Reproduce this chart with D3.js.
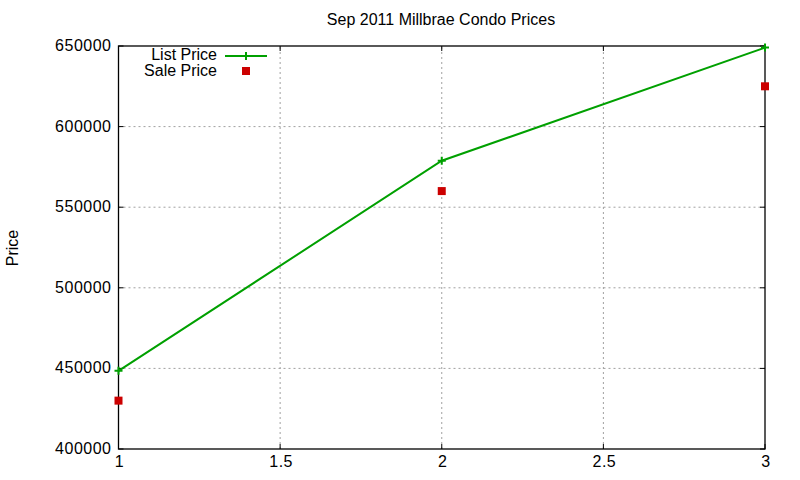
<!DOCTYPE html>
<html lang="en">
<head>
<meta charset="utf-8">
<title>Sep 2011 Millbrae Condo Prices</title>
<script src="https://cdn.jsdelivr.net/npm/d3@7"></script>
<style>
    body { margin: 0; background: #fff; }
    text { font-family: "Liberation Sans", Arial, sans-serif; fill: #000; font-size: 16px; }
    .tick-label { letter-spacing: 0.5px; }
    .grid line { stroke: #a0a0a0; stroke-dasharray: 2,3; }
</style>
</head>
<body>
<div id="chart"></div>
<script>

// data
const bedrooms = [1, 2, 3];
const listPrice = [448500, 578800, 649000];
const salePrice = [430000, 560000, 625000];

const xTicks = [1, 1.5, 2, 2.5, 3];
const yTicks = [400000, 450000, 500000, 550000, 600000, 650000];

const WIDTH = 800,
      HEIGHT = 480,
      MARGIN = { top: 46, right: 35, bottom: 31, left: 118.5 };

const LIST_COLOUR = "#00a000",
      SALE_COLOUR = "#cc0000";

let svg = d3.select("#chart")
    .append("svg")
    .attr("width", WIDTH)
    .attr("height", HEIGHT);

let xScale = d3.scaleLinear()
    .domain([1, 3])
    .range([MARGIN.left, WIDTH - MARGIN.right]);

let yScale = d3.scaleLinear()
    .domain([400000, 650000])
    .range([HEIGHT - MARGIN.bottom, MARGIN.top]);

// grid
let grid = svg.append("g").attr("class", "grid");
grid.selectAll(".gx")
    .data(xTicks.slice(1, -1))
    .enter().append("line")
    .attr("x1", d => xScale(d)).attr("x2", d => xScale(d))
    .attr("y1", yScale(400000)).attr("y2", yScale(650000));
grid.selectAll(".gy")
    .data(yTicks.slice(1, -1))
    .enter().append("line")
    .attr("x1", xScale(1)).attr("x2", xScale(3))
    .attr("y1", d => yScale(d)).attr("y2", d => yScale(d));

// inward ticks on all four sides
let ticks = svg.append("g").attr("stroke", "#000").attr("stroke-width", 1);
const TICK = 5;
xTicks.forEach(function(d) {
    ticks.append("line")
        .attr("x1", xScale(d)).attr("x2", xScale(d))
        .attr("y1", yScale(400000)).attr("y2", yScale(400000) - TICK);
    ticks.append("line")
        .attr("x1", xScale(d)).attr("x2", xScale(d))
        .attr("y1", yScale(650000)).attr("y2", yScale(650000) + TICK);
});
yTicks.forEach(function(d) {
    ticks.append("line")
        .attr("x1", xScale(1)).attr("x2", xScale(1) + TICK)
        .attr("y1", yScale(d)).attr("y2", yScale(d));
    ticks.append("line")
        .attr("x1", xScale(3)).attr("x2", xScale(3) - TICK)
        .attr("y1", yScale(d)).attr("y2", yScale(d));
});

// border
svg.append("rect")
    .attr("x", xScale(1))
    .attr("y", yScale(650000))
    .attr("width", xScale(3) - xScale(1))
    .attr("height", yScale(400000) - yScale(650000))
    .attr("fill", "none")
    .attr("stroke", "#000")
    .attr("stroke-width", 1.3);

// tick labels
svg.selectAll(".xlab")
    .data(xTicks)
    .enter().append("text")
    .attr("class", "tick-label")
    .attr("x", d => xScale(d) + 1)
    .attr("y", HEIGHT - MARGIN.bottom + 18)
    .attr("text-anchor", "middle")
    .text(d => d);

svg.selectAll(".ylab")
    .data(yTicks)
    .enter().append("text")
    .attr("class", "tick-label")
    .attr("x", MARGIN.left - 7)
    .attr("y", d => yScale(d) + 5)
    .attr("text-anchor", "end")
    .text(d => d);

// title and axis label
svg.append("text")
    .attr("x", 441)
    .attr("y", 25)
    .attr("text-anchor", "middle")
    .text("Sep 2011 Millbrae Condo Prices");

svg.append("text")
    .attr("transform", "translate(18,248) rotate(-90)")
    .attr("text-anchor", "middle")
    .text("Price");

// list price line
let lineGen = d3.line()
    .x((d, i) => xScale(bedrooms[i]))
    .y(d => yScale(d));

svg.append("path")
    .datum(listPrice)
    .attr("d", lineGen)
    .attr("fill", "none")
    .attr("stroke", LIST_COLOUR)
    .attr("stroke-width", 2);

function plus(g, x, y) {
    g.append("path")
        .attr("d", "M" + (x - 4) + "," + y + "h8M" + x + "," + (y - 4) + "v8")
        .attr("stroke", LIST_COLOUR)
        .attr("stroke-width", 2);
}

let marks = svg.append("g");
listPrice.forEach((d, i) => plus(marks, xScale(bedrooms[i]), yScale(d)));

svg.selectAll(".sale")
    .data(salePrice)
    .enter().append("rect")
    .attr("x", (d, i) => xScale(bedrooms[i]) - 4)
    .attr("y", d => yScale(d) - 4)
    .attr("width", 8)
    .attr("height", 8)
    .attr("fill", SALE_COLOUR);

// key
let key = svg.append("g");
key.append("text")
    .attr("x", 217).attr("y", 60)
    .attr("text-anchor", "end")
    .text("List Price");
key.append("line")
    .attr("x1", 225).attr("x2", 267)
    .attr("y1", 56).attr("y2", 56)
    .attr("stroke", LIST_COLOUR)
    .attr("stroke-width", 2);
plus(key, 246, 56);
key.append("text")
    .attr("x", 217).attr("y", 76)
    .attr("text-anchor", "end")
    .text("Sale Price");
key.append("rect")
    .attr("x", 242).attr("y", 67)
    .attr("width", 8).attr("height", 8)
    .attr("fill", SALE_COLOUR);

</script>
</body>
</html>
